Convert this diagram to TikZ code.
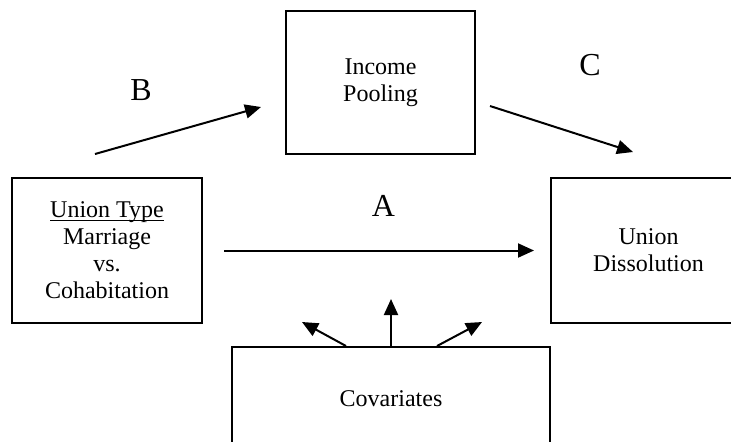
\documentclass[tikz,border=0pt]{standalone}
\usepackage{fontspec}
\setmainfont{Liberation Serif}
\usetikzlibrary{arrows.meta, calc}

\begin{document}
\begin{tikzpicture}[
  x=0.5pt, y=-0.5pt,
  box/.style={draw=black, line width=1pt, align=center, inner sep=2pt,
    font=\fontsize{12}{13.5}\selectfont},
  link/.style={-{Triangle[length=8pt, width=7pt]}, line width=1pt},
  tag/.style={font=\fontsize{16}{19}\selectfont}
]

% frame of the page; the right box and the covariates box run off it
\useasboundingbox (0,0) rectangle (731,441);
\clip (0,0) rectangle (731,441);

% the four boxes
\node[box, minimum width=94.5pt, minimum height=71.5pt] (pool) at (380.5,82.5) {Income\\Pooling};
\node[box, minimum width=95pt, minimum height=72.5pt] (type) at (107,250.5) {\underline{\smash{Union Type}\vphantom{U}}\\Marriage\\vs.\\Cohabitation};
\node[box, minimum width=97.5pt, minimum height=72.5pt] (diss) at (648.5,250.5) {Union\\Dissolution};
\node[box, minimum width=159pt, minimum height=52pt] (cov) at (391,399) {Covariates};

% path A: straight across
\draw[link, shorten <=10.5pt, shorten >=8pt] (type) -- (diss) node[tag, pos=0.52, above=13pt] (lblA) {A};

% paths B and C: through income pooling, with free ends
\coordinate (b0) at ($(type.north)+(-12,-23)$);
\coordinate (b1) at ($(pool.west)+(-24,24.5)$);
\coordinate (c0) at ($(pool.east)+(14,23.5)$);
\coordinate (c1) at ($(diss.north)+(-15.5,-25)$);
\draw[link] (b0) -- (b1);
\draw[link] (c0) -- (c1);
\node[tag] (lblB) at (141,90) {B};
\node[tag] (lblC) at (590,65) {C};

% covariates point up at all three paths
\foreach \sx/\ex/\ey in {-45/-89/-24, 0/0/-47, 46/91/-24}
  \draw[link] ($(cov.north)+(\sx,0)$) -- ($(cov.north)+(\ex,\ey)$);

\end{tikzpicture}
\end{document}
